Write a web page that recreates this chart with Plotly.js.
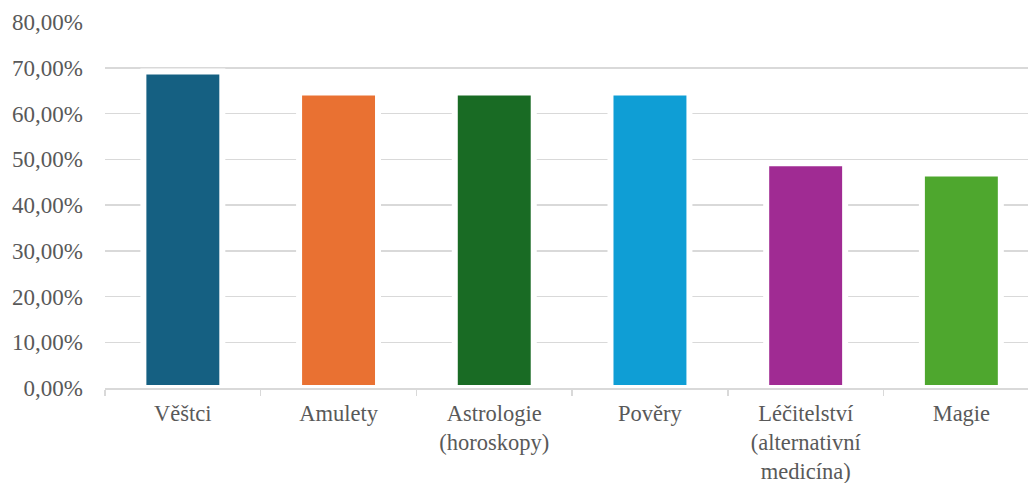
<!DOCTYPE html>
<html>
<head>
<meta charset="utf-8">
<script src="https://cdn.plot.ly/plotly-3.0.1.min.js"></script>
<style>html,body{margin:0;padding:0;background:#fff;}#chart{width:1028px;height:483px;}</style>
</head>
<body>
<div id="chart"></div>
<script>
const categories = ["Věštci", "Amulety", "Astrologie<br>(horoskopy)", "Pověry", "Léčitelství<br>(alternativní<br>medicína)", "Magie"];
const values = [69.2, 64.6, 64.6, 64.6, 49.1, 46.9];
const colors = ["#156082", "#E97132", "#196B24", "#0F9ED5", "#A02B93", "#4EA72E"];
const yTicks = [0, 10, 20, 30, 40, 50, 60, 70, 80];
const yTickText = yTicks.map(v => v.toFixed(2).replace(".", ",") + "%");

const font = {family: "Liberation Serif", size: 23, color: "#595959"};
const xfont = {family: "Liberation Serif", size: 22.5, color: "#595959"};

Plotly.newPlot("chart", [{
  type: "bar",
  x: categories,
  y: values,
  width: 0.507,
  marker: {color: colors, line: {color: "#ffffff", width: 6}},
  hoverinfo: "none"
}], {
  width: 1028, height: 483,
  margin: {l: 105, r: 0, t: 22, b: 95},
  paper_bgcolor: "#ffffff", plot_bgcolor: "#ffffff",
  showlegend: false,
  font: font,
  xaxis: {
    type: "category",
    range: [-0.5, 5.428],
    showline: true, linecolor: "#d9d9d9", linewidth: 1.5,
    ticks: "outside", tickson: "boundaries", ticklen: 6, tickcolor: "#d9d9d9", tickwidth: 1.5,
    showgrid: false, tickfont: xfont, ticklabelstandoff: 4
  },
  yaxis: {
    range: [0, 80],
    tickvals: yTicks, ticktext: yTickText,
    showgrid: true, gridcolor: "#d9d9d9", gridwidth: 1.5,
    zeroline: false, showline: false, ticks: "",
    tickfont: font, ticklabelstandoff: 21
  }
}, {displayModeBar: false, staticPlot: true});
</script>
</body>
</html>
